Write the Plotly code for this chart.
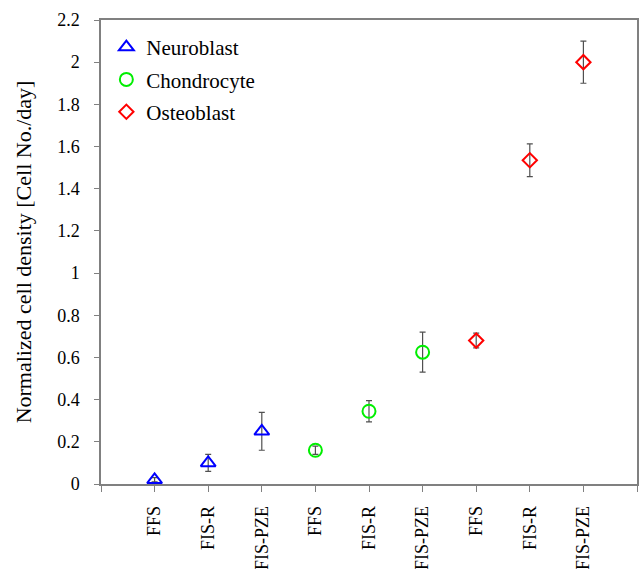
import plotly.graph_objects as go

categories = ["FFS", "FIS-R", "FIS-PZE", "FFS", "FIS-R", "FIS-PZE", "FFS", "FIS-R", "FIS-PZE"]
neuro_x = [1, 2, 3]
neuro_y = [0.02, 0.10, 0.25]
neuro_err = [0.01, 0.04, 0.09]
chondro_x = [4, 5, 6]
chondro_y = [0.16, 0.345, 0.625]
chondro_err = [0.02, 0.05, 0.095]
osteo_x = [7, 8, 9]
osteo_y = [0.68, 1.535, 2.0]
osteo_err = [0.035, 0.078, 0.1]

font = "Liberation Serif"
err_color = "#505050"

fig = go.Figure()

def add(name, xs, ys, errs, symbol, color, size):
    fig.add_trace(go.Scatter(
        x=xs, y=ys, mode="markers", name=name, legendgroup=name,
        marker=dict(symbol=symbol, size=size, color=color, line=dict(width=2, color=color)),
        error_y=dict(type="data", array=errs, visible=True, color=err_color, thickness=1.2, width=3),
    ))

add("Neuroblast", neuro_x, neuro_y, neuro_err, "triangle-up-open", "#0000ff", 13)
add("Chondrocyte", chondro_x, chondro_y, chondro_err, "circle-open", "#00ee00", 13)
add("Osteoblast", osteo_x, osteo_y, osteo_err, "diamond-open", "#ff0000", 11)

tickvals = list(range(0, 11))
ticktext = [""] + categories + [""]

fig.update_layout(
    width=639, height=569,
    margin=dict(l=101, r=2, t=20, b=85),
    plot_bgcolor="white", paper_bgcolor="white",
    font=dict(family=font, color="black"),
    showlegend=True,
    legend=dict(x=0.01, y=0.985, xanchor="left", yanchor="top",
                font=dict(size=21, family=font), bgcolor="rgba(0,0,0,0)",
                traceorder="grouped", tracegroupgap=2, itemwidth=30),
    xaxis=dict(range=[0, 10], tickvals=tickvals, ticktext=ticktext, tickangle=-90,
               showgrid=False, zeroline=False, showline=True, linecolor="#808080", linewidth=1.5,
               mirror=True, ticks="outside", ticklen=6, tickcolor="#808080",
               ticklabelstandoff=7, automargin=False,
               tickfont=dict(size=18, family=font)),
    yaxis=dict(range=[0, 2.2], dtick=0.2, tick0=0,
               showgrid=False, zeroline=False, showline=True, linecolor="#808080", linewidth=1.5,
               mirror=True, ticks="outside", ticklen=5, tickcolor="#808080",
               ticklabelstandoff=11, automargin=False,
               tickfont=dict(size=18, family=font),
               title=dict(text="Normalized cell density [Cell No./day]", font=dict(size=22, family=font), standoff=19)),
)

fig.write_html("out.html")
